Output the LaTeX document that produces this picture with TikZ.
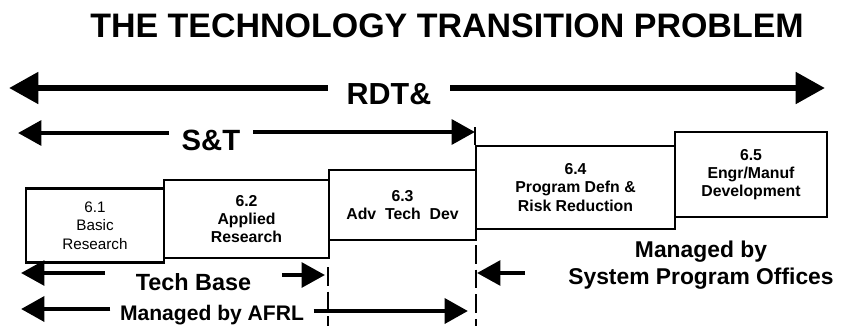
\documentclass[tikz,border=0pt]{standalone}
\usepackage{fontspec}
\setmainfont{Liberation Sans}
\usepackage{tikz}
\usetikzlibrary{arrows.meta}
\tikzstyle{block} = [rectangle, draw, line width=2pt, inner sep=0pt,
align=center, font=\fontsize{13.5}{15.5}\selectfont\bfseries]
\tikzstyle{banner} = [inner ysep=0pt, font=\bfseries]
\tikzstyle{wide} = [draw, line width=5.5pt, -{Triangle[length=25pt,width=26pt]}]
\tikzstyle{line} = [draw, line width=3.6pt, -{Triangle[length=20pt,width=21pt]}]
\tikzstyle{divider} = [draw, line width=2pt, dash pattern=on 16pt off 5pt]

\begin{document}
\begin{tikzpicture}[x=0.03cm, y=-0.03cm]
	\useasboundingbox (0,0) rectangle (843,326);
	% Title
	\node [banner, font=\fontsize{29}{32}\selectfont\bfseries] (title) at (447,26) {THE TECHNOLOGY TRANSITION PROBLEM};
	%
	% Place stages
	\node [block, font=\fontsize{13}{16}\selectfont, minimum width=4.14cm, minimum height=2.22cm] (s61) at (95,225.5) {6.1\\Basic\\Research};
	\node [block, minimum width=4.95cm, minimum height=2.34cm] (s62) at (246.5,219) {6.2\\Applied\\Research};
	\node [block, minimum width=4.41cm, minimum height=2.10cm] (s63) at (402.5,205) {6.3\\Adv\ \ Tech\ \ Dev};
	\node [block, minimum width=5.97cm, minimum height=2.49cm] (s64) at (575.5,187.5) {6.4\\Program Defn \&\\Risk Reduction};
	\node [block, minimum width=4.56cm, minimum height=2.55cm] (s65) at (751,174.5) {6.5\\Engr/Manuf\\Development};
	%
	% Span labels
	\node [banner, font=\fontsize{26}{28}\selectfont\bfseries, inner xsep=16pt] (rdt) at (389,94) {RDT\&};
	\node [banner, font=\fontsize{25}{28}\selectfont\bfseries, inner xsep=11pt] (st) at (211,140) {S\&T};
	\node [banner, font=\fontsize{20}{22}\selectfont\bfseries, inner xsep=26pt] (techbase) at (193.5,282.5) {Tech Base};
	\node [banner, font=\fontsize{18}{20}\selectfont\bfseries, inner xsep=8pt, anchor=base] (afrl) at (212,320) {Managed by AFRL};
	\node [banner, font=\fontsize{19.5}{23}\selectfont\bfseries, align=center] (spo) at (701,265.5) {Managed by\\System Program Offices};
	%
	% Arrow ends
	\coordinate (rdtL) at (9,88);
	\coordinate (rdtR) at (825,88);
	\coordinate (stL) at (18,133);
	\coordinate (stR) at (475,132);
	\coordinate (tbL) at (21,273);
	\coordinate (tbR) at (325,275);
	\coordinate (afrlL) at (21,309);
	\coordinate (afrlR) at (468,311);
	\coordinate (spoTail) at (525,273);
	\coordinate (spoTip) at (477,273);
	\coordinate (cutA) at (328,267);
	\coordinate (cutAend) at (328,326);
	\coordinate (cutB) at (476,245);
	\coordinate (cutBend) at (476,326);
	%
	\path [wide] (rdt.west |- rdtL) -- (rdtL);
	\path [wide] (rdt.east |- rdtR) -- (rdtR);
	\path [line, line width=4pt] (st.west |- stL) -- (stL);
	\path [line, line width=4pt] (st.east |- stR) -- (stR);
	\path [line] (techbase.west |- tbL) -- (tbL);
	\path [line] (techbase.east |- tbR) -- (tbR);
	\path [line, line width=4.2pt] (afrl.west |- afrlL) -- (afrlL);
	\path [line, line width=4.2pt] (afrl.east |- afrlR) -- (afrlR);
	\path [line] (spoTail) -- (spoTip);
	%
	\draw [line width=2pt] (s64.north west) -- ++(0,-18);
	\path [divider] (cutA) -- (cutAend);
	\path [divider] (cutB) -- (cutBend);
\end{tikzpicture}
\end{document}
